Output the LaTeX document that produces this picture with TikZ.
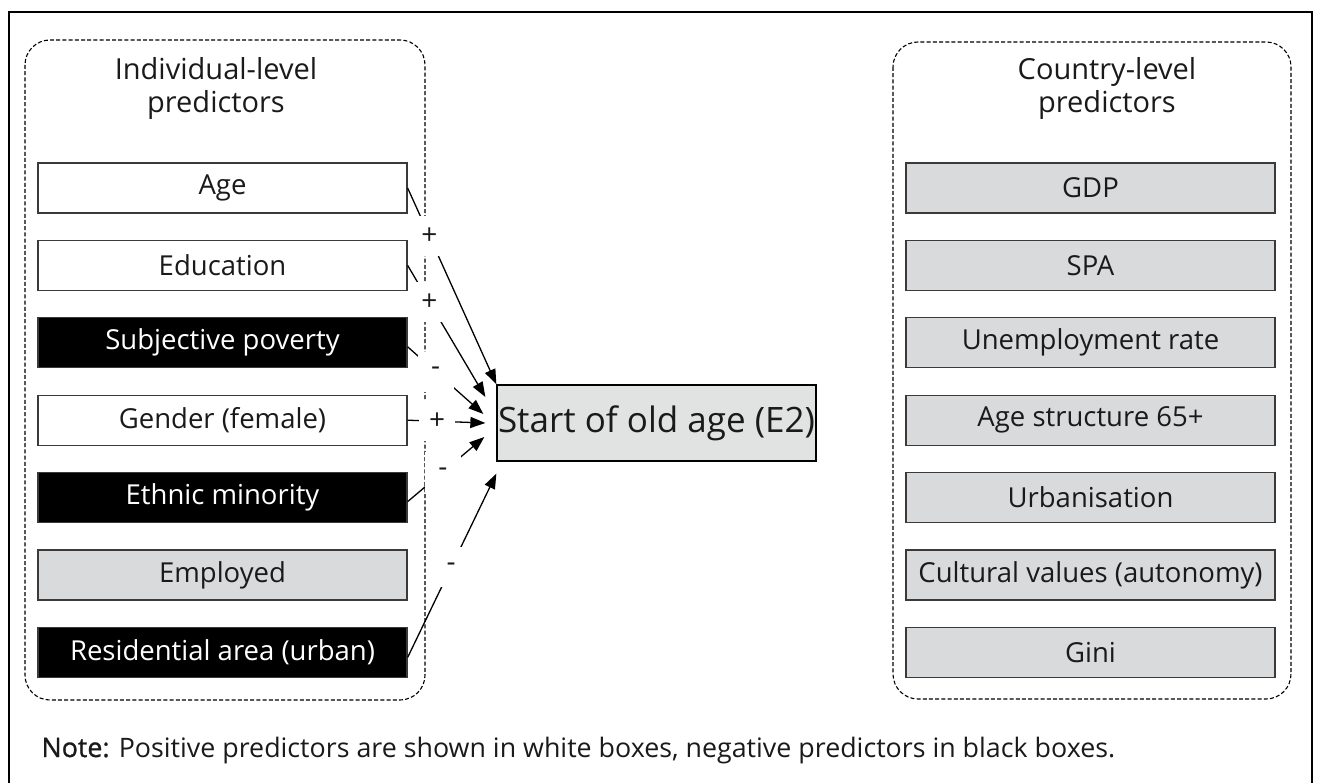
\documentclass[tikz,border=0pt]{standalone}
\usepackage{fontspec}
\setmainfont{Open Sans}
\usetikzlibrary{arrows.meta,calc}
\definecolor{boxgray}{HTML}{D9DADB}
\definecolor{centergray}{HTML}{E1E2E2}
\definecolor{edgegray}{HTML}{3A3A3A}
\definecolor{txt}{HTML}{1A1A1A}
\begin{document}
\begin{tikzpicture}[x=1pt,y=-1pt,
  pbox/.style={draw=edgegray, line width=1.3pt, minimum width=369pt, minimum height=50pt, inner sep=0pt, font=\fontsize{27.5}{32}\selectfont, text=txt},
  posbox/.style={pbox, fill=white},
  negbox/.style={pbox, fill=black, text=white},
  neutbox/.style={pbox, fill=boxgray},
  group/.style={draw=black, dash pattern=on 4pt off 2.2pt, line width=1.1pt, rounded corners=25pt},
  conn/.style={line width=1.3pt, -{Triangle[length=15pt,width=11pt]}},
  sign/.style={fill=white, inner sep=0pt, minimum width=36pt, minimum height=40pt, font=\fontsize{28}{30}\selectfont, text=txt},
  title/.style={align=center, anchor=base, font=\fontsize{29}{33}\selectfont, text=txt}]
\useasboundingbox (0,0) rectangle (1322,783);
% outer frame
\draw[line width=2.5pt] (9,783) -- (9,12) -- (1312,12) -- (1312,783);
% groups
\draw[group] (25,40) rectangle (425,700);
\draw[group] (893,42) rectangle (1291,699);
% titles (anchor base = baseline of last line)
\node[title] (tl) at (216,113) {Individual-level\\predictors};
\node[title] (tr) at (1107,113) {Country-level\\predictors};
% left boxes
\node[posbox] (age) at (222.5,188) {Age};
\node[posbox] (edu) at (222.5,265.4) {Education};
\node[negbox] (subj) at (222.5,342.8) {Subjective poverty};
\node[posbox] (gen) at (222.5,420.2) {Gender (female)};
\node[negbox] (eth) at (222.5,497.6) {Ethnic minority};
\node[neutbox] (emp) at (222.5,575) {Employed};
\node[negbox] (res) at (222.5,652.4) {Residential area (urban)};
% right boxes
\node[neutbox] (gdp) at (1090.5,188) {GDP};
\node[neutbox] (spa) at (1090.5,265.4) {SPA};
\node[neutbox] (unemp) at (1090.5,342.8) {Unemployment rate};
\node[neutbox] (agestr) at (1090.5,420.2) {Age structure 65+};
\node[neutbox] (urb) at (1090.5,497.6) {Urbanisation};
\node[neutbox] (cult) at (1090.5,575) {Cultural values (autonomy)};
\node[neutbox] (gini) at (1090.5,652.4) {Gini};
% outcome
\node[draw=black, fill=centergray, line width=1.3pt, minimum width=319pt, minimum height=76pt, inner sep=0pt, font=\fontsize{35}{40}\selectfont, text=txt] (out) at (656.5,423) {Start of old age (E2)};
% connectors
\draw[conn] (age.east) -- node[sign,pos=0.245]{+} (out.north west);
\draw[conn] (edu.east) -- node[sign,pos=0.28]{+} ($(out.west)+(-11,-26)$);
\draw[conn] ($(subj.east)+(0,4)$) -- node[sign,pos=0.37]{-} ($(out.west)+(-13,-9)$);
\draw[conn] (gen.east) -- node[sign,pos=0.38]{+} ($(out.west)+(-11,0)$);
\draw[conn] ($(eth.east)+(0,4)$) -- node[sign,pos=0.46]{-} ($(out.west)+(-12,14)$);
\draw[conn] ($(res.east)+(0,5)$) -- node[sign,pos=0.49]{-} ($(out.south west)+(0,12)$);
% note
\node[anchor=base west, font=\fontsize{26.8}{30}\selectfont, text=txt] (note) at (38,757) {{\addfontfeature{FakeBold=1}Note:} Positive predictors are shown in white boxes, negative predictors in black boxes.};
\end{tikzpicture}
\end{document}
